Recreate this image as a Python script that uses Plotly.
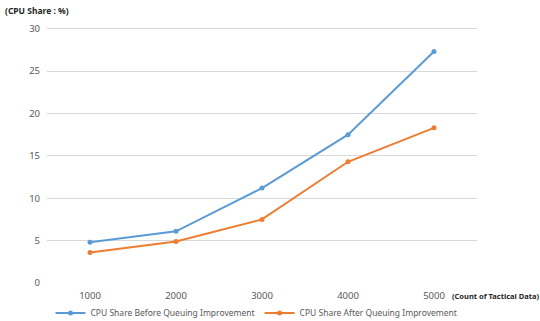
import plotly.graph_objects as go

counts = ["1000", "2000", "3000", "4000", "5000"]
before_share = [4.8, 6.1, 11.2, 17.5, 27.3]
after_share = [3.6, 4.9, 7.5, 14.3, 18.3]
y_ticks = [0, 5, 10, 15, 20, 25, 30]

font_family = "Noto Sans, Open Sans, sans-serif"
tick_color = "#595959"

fig = go.Figure()
fig.add_trace(go.Scatter(
    x=counts, y=before_share, mode="lines+markers",
    name="CPU Share Before Queuing Improvement",
    line=dict(color="#5B9BD5", width=2),
    marker=dict(size=5, color="#5B9BD5"),
))
fig.add_trace(go.Scatter(
    x=counts, y=after_share, mode="lines+markers",
    name="CPU Share After Queuing Improvement",
    line=dict(color="#ED7D31", width=2),
    marker=dict(size=5, color="#ED7D31"),
))

fig.update_layout(
    width=540, height=321,
    margin=dict(l=47, r=63, t=27, b=38, autoexpand=False),
    paper_bgcolor="white", plot_bgcolor="white",
    font=dict(family=font_family, size=9, color=tick_color),
    showlegend=True,
    legend=dict(
        orientation="h", xref="container", yref="container",
        x=0.475, xanchor="center",
        y=8 / 321, yanchor="middle",
        font=dict(size=8.5, color=tick_color),
        itemwidth=30, tracegroupgap=0,
    ),
    xaxis=dict(
        type="category", range=[-0.5, 4.5],
        tickmode="array", tickvals=counts,
        showgrid=False, showline=False, zeroline=False,
        ticks="", tickfont=dict(size=9.5, color=tick_color),
        ticklabelstandoff=5,
    ),
    yaxis=dict(
        range=[0, 30.2], tickvals=y_ticks,
        showgrid=True, gridcolor="#D9D9D9", gridwidth=1,
        zeroline=False, showline=False, ticks="",
        tickfont=dict(size=9.5, color=tick_color),
        ticklabelstandoff=6,
    ),
    annotations=[
        dict(text="<b>(CPU Share : %)</b>", xref="paper", yref="paper",
             x=-44 / 430, y=1 + 17 / 256, xanchor="left", yanchor="middle",
             showarrow=False, font=dict(size=8.5, color="#262626")),
        dict(text="<b>(Count of Tactical Data)</b>", xref="paper", yref="paper",
             x=(450 - 47) / 430, y=-13 / 256, xanchor="left", yanchor="middle",
             showarrow=False, font=dict(size=7.5, color="#262626")),
    ],
)

fig.write_html("out.html")
